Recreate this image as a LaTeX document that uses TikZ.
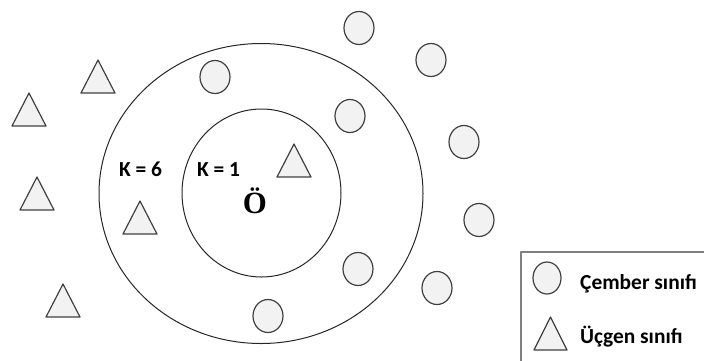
\documentclass[tikz,border=0pt]{standalone}
\usepackage{fontspec}
\setmainfont{Carlito}
\newfontfamily\serifbold{Liberation Serif}
\definecolor{noktagri}{HTML}{F2F2F2}
\definecolor{kenargri}{HTML}{404040}
\definecolor{kutugri}{HTML}{7F7F7F}
\begin{document}
\begin{tikzpicture}[x=1bp, y=-1bp, line join=round,
	cember/.style={draw=kenargri, fill=noktagri, line width=1.2bp},
	ucgen/.style={draw=kenargri, fill=noktagri, line width=1.2bp},
	halka/.style={draw=black!85, line width=1bp},
	etiket/.style={font=\fontsize{21.5}{24}\selectfont\bfseries, inner sep=0pt}]
	\useasboundingbox (0,0) rectangle (704,360);

	% komsuluk halkalari
	\draw[halka] (261,193.5) ellipse [x radius=162, y radius=150];
	\draw[halka] (261.5,193) ellipse [x radius=79.5, y radius=84];

	% cember sinifi ornekleri
	\foreach \cx/\cy in {215/77, 359/28, 431/60, 350/116, 464/142, 479/220, 358/269, 437/288, 268/316}
		\draw[cember] (\cx,\cy) ellipse [x radius=15, y radius=16.5];

	% ucgen sinifi ornekleri (tepe noktasi)
	\foreach \tx/\ty in {98/60, 29/93, 37/177, 140/201, 63/284, 294/144}
		\draw[ucgen] (\tx,\ty) -- ++(17,33) -- ++(-34,0) -- cycle;

	% K etiketleri ve sorgu noktasi
	\node[etiket] (k6) at (140.5,169) {K = 6};
	\node[etiket] (k1) at (218.5,170) {K = 1};
	\node[inner sep=0pt, font=\serifbold\fontsize{31}{32}\selectfont\bfseries] (sorgu) at (255,200.5) {Ö};

	% lejant
	\draw[draw=kutugri, line width=1.5bp] (710,252) -- (521,252) -- (521,370);
	\draw[cember] (547,278) ellipse [x radius=14, y radius=16];
	\draw[ucgen] (550.5,317) -- ++(16.5,33) -- ++(-33,0) -- cycle;
	\node[etiket, anchor=base west] (lcember) at (580,289) {Çember sınıfı};
	\node[etiket, anchor=base west] (lucgen) at (580,343) {Üçgen sınıfı};
\end{tikzpicture}
\end{document}
